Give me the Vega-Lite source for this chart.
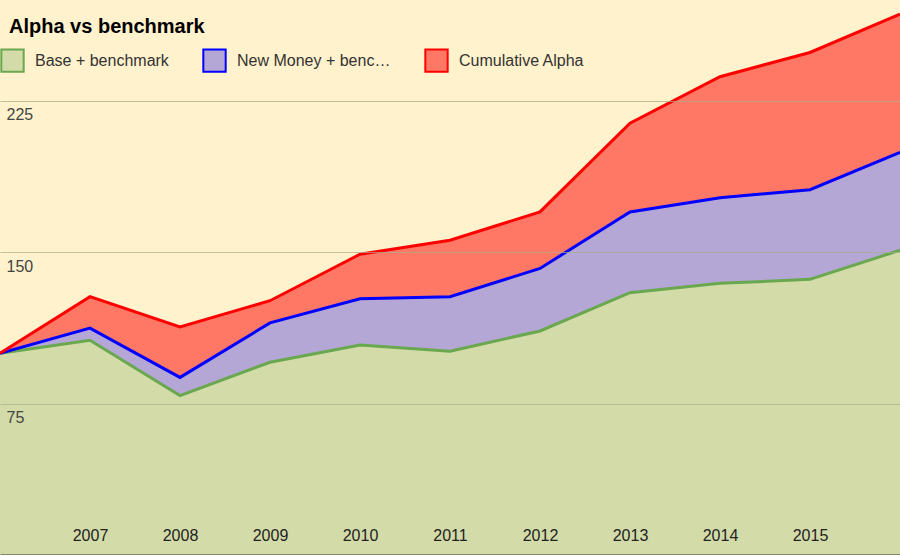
{
  "$schema": "https://vega.github.io/schema/vega-lite/v6.json",
  "width": 900,
  "height": 555,
  "autosize": {"type": "none"},
  "padding": 0,
  "background": "#fff2cc",
  "title": {"text": "Alpha vs benchmark", "anchor": "start", "frame": "bounds", "orient": "top", "offset": 0, "dx": 15, "dy": 37, "font": "Liberation Sans", "fontSize": 20, "fontWeight": "bold", "color": "#000000"},
  "data": {
    "values": [
      {"year": 2006, "series": "Base + benchmark", "v": 100},
      {"year": 2007, "series": "Base + benchmark", "v": 106.4},
      {"year": 2008, "series": "Base + benchmark", "v": 79},
      {"year": 2009, "series": "Base + benchmark", "v": 95.5},
      {"year": 2010, "series": "Base + benchmark", "v": 104},
      {"year": 2011, "series": "Base + benchmark", "v": 101},
      {"year": 2012, "series": "Base + benchmark", "v": 111},
      {"year": 2013, "series": "Base + benchmark", "v": 130},
      {"year": 2014, "series": "Base + benchmark", "v": 134.6},
      {"year": 2015, "series": "Base + benchmark", "v": 136.6},
      {"year": 2016, "series": "Base + benchmark", "v": 151},
      {"year": 2006, "series": "New Money + benchmark", "v": 100},
      {"year": 2007, "series": "New Money + benchmark", "v": 112.4},
      {"year": 2008, "series": "New Money + benchmark", "v": 88},
      {"year": 2009, "series": "New Money + benchmark", "v": 115},
      {"year": 2010, "series": "New Money + benchmark", "v": 127},
      {"year": 2011, "series": "New Money + benchmark", "v": 128},
      {"year": 2012, "series": "New Money + benchmark", "v": 142},
      {"year": 2013, "series": "New Money + benchmark", "v": 170},
      {"year": 2014, "series": "New Money + benchmark", "v": 177},
      {"year": 2015, "series": "New Money + benchmark", "v": 181},
      {"year": 2016, "series": "New Money + benchmark", "v": 199.5},
      {"year": 2006, "series": "Cumulative Alpha", "v": 100},
      {"year": 2007, "series": "Cumulative Alpha", "v": 128},
      {"year": 2008, "series": "Cumulative Alpha", "v": 113},
      {"year": 2009, "series": "Cumulative Alpha", "v": 126},
      {"year": 2010, "series": "Cumulative Alpha", "v": 149},
      {"year": 2011, "series": "Cumulative Alpha", "v": 156},
      {"year": 2012, "series": "Cumulative Alpha", "v": 170},
      {"year": 2013, "series": "Cumulative Alpha", "v": 214},
      {"year": 2014, "series": "Cumulative Alpha", "v": 237},
      {"year": 2015, "series": "Cumulative Alpha", "v": 249},
      {"year": 2016, "series": "Cumulative Alpha", "v": 268}
    ]
  },
  "encoding": {
    "x": {"field": "year", "type": "quantitative", "scale": {"domain": [2006, 2016], "nice": false},
      "axis": {"title": null, "zindex": 1, "values": [2007, 2008, 2009, 2010, 2011, 2012, 2013, 2014, 2015], "format": "d", "grid": false, "ticks": false, "labelPadding": -28, "labelFont": "Liberation Sans", "labelFontSize": 16, "labelColor": "#222222", "domainColor": "#333333", "domainWidth": 2}},
    "y": {"field": "v", "type": "quantitative", "scale": {"domain": [0, 275], "nice": false, "zero": true},
      "axis": {"title": null, "zindex": 1, "values": [75, 150, 225], "grid": true, "gridColor": "#a8ad8a", "gridOpacity": 0.7, "ticks": false, "domain": false, "labelAlign": "left", "labelBaseline": "top", "labelPadding": -6, "labelOffset": 6, "labelFont": "Liberation Sans", "labelFontSize": 16, "labelColor": "#444444"}}
  },
  "layer": [
    {"transform": [{"filter": "datum.series == 'Cumulative Alpha'"}], "mark": {"type": "area", "opacity": 1},
      "encoding": {"fill": {"field": "series", "type": "nominal", "scale": {"domain": ["Base + benchmark", "New Money + benchmark", "Cumulative Alpha"], "range": ["#d3dba8", "#b4a7d6", "#ff7866"]},
        "legend": {"title": null, "orient": "none", "legendX": 0, "legendY": 48, "direction": "horizontal", "symbolType": "square", "symbolSize": 500, "symbolStrokeWidth": 2, "labelFont": "Liberation Sans", "labelFontSize": 16, "labelColor": "#333333", "columnPadding": 30, "labelOffset": 10}}}},
    {"transform": [{"filter": "datum.series == 'New Money + benchmark'"}], "mark": {"type": "area", "opacity": 1},
      "encoding": {"fill": {"field": "series", "type": "nominal"}}},
    {"transform": [{"filter": "datum.series == 'Base + benchmark'"}], "mark": {"type": "area", "opacity": 1},
      "encoding": {"fill": {"field": "series", "type": "nominal"}}},
    {"mark": {"type": "line", "strokeWidth": 3},
      "encoding": {"stroke": {"field": "series", "type": "nominal", "scale": {"domain": ["Base + benchmark", "New Money + benchmark", "Cumulative Alpha"], "range": ["#6aa84f", "#0000ff", "#ff0000"]},
        "legend": {"title": null, "orient": "none", "legendX": 0, "legendY": 48, "direction": "horizontal", "symbolType": "square", "symbolSize": 500, "symbolStrokeWidth": 2, "labelFont": "Liberation Sans", "labelFontSize": 16, "labelColor": "#333333", "columnPadding": 30, "labelOffset": 10}}}}
  ],
  "config": {"view": {"stroke": null}}
}
